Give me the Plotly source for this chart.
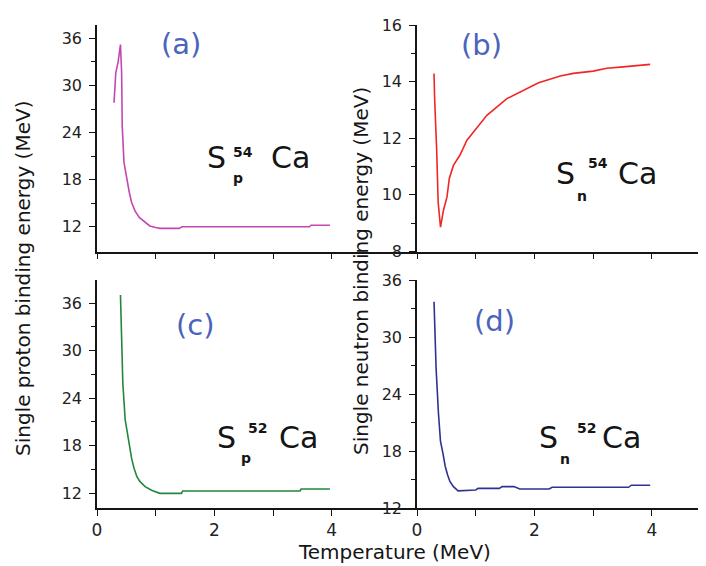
import plotly.graph_objects as go

# ---------------- data ----------------
T_a = [0.29, 0.30, 0.32, 0.36, 0.40, 0.42, 0.43, 0.46, 0.50, 0.55, 0.59, 0.65, 0.72, 0.82,
       0.90, 1.00, 1.07, 1.40, 1.45, 2.00, 2.50, 3.00, 3.62, 3.65, 3.97]
S_a = [27.8, 29.2, 31.6, 33.0, 35.2, 31.6, 24.8, 20.2, 18.4, 16.4, 15.1, 14.0, 13.2, 12.6,
       12.1, 11.9, 11.8, 11.8, 12.0, 12.0, 12.0, 12.0, 12.0, 12.2, 12.2]

T_b = [0.29, 0.30, 0.335, 0.36, 0.40, 0.45, 0.51, 0.55, 0.62, 0.73, 0.85, 1.04, 1.19, 1.53,
       1.75, 2.07, 2.44, 2.66, 3.00, 3.23, 3.51, 3.97]
S_b = [14.29, 13.4, 11.58, 9.75, 8.86, 9.45, 9.92, 10.58, 11.04, 11.4, 11.93, 12.4, 12.81, 13.4,
       13.64, 13.96, 14.2, 14.29, 14.37, 14.47, 14.52, 14.61]

T_c = [0.40, 0.41, 0.44, 0.48, 0.52, 0.55, 0.59, 0.63, 0.68, 0.73, 0.82, 0.93, 1.07, 1.44,
       1.46, 2.00, 3.00, 3.46, 3.48, 3.97]
S_c = [37.0, 33.3, 25.9, 21.3, 19.4, 17.7, 16.4, 15.2, 14.1, 13.5, 12.85, 12.4, 12.0, 12.0,
       12.3, 12.3, 12.3, 12.3, 12.55, 12.55]

T_d = [0.29, 0.30, 0.325, 0.365, 0.40, 0.44, 0.48, 0.52, 0.56, 0.62, 0.70, 1.00, 1.04, 1.40,
       1.45, 1.65, 1.75, 2.25, 2.30, 3.60, 3.65, 3.97]
S_d = [33.7, 31.4, 26.7, 22.0, 19.0, 17.8, 16.4, 15.5, 14.8, 14.25, 13.8, 13.9, 14.07, 14.07,
       14.25, 14.25, 14.0, 14.0, 14.18, 14.18, 14.4, 14.4]

x_ticks = [0, 1, 2, 3, 4]
x_ticktext = ["0", "", "2", "", "4"]
y_ticks_ac = [12, 18, 24, 30, 36]
y_minor_ac = [15, 21, 27, 33]
y_ticks_b = [8, 10, 12, 14, 16]
y_minor_b = [9, 11, 13, 15]
y_ticks_d = [12, 18, 24, 30, 36]
y_minor_d = [15, 21, 27, 33]

panel_tags = ["(a)", "(b)", "(c)", "(d)"]
sub_p = "p"
sub_n = "n"
mass_54 = "54"
mass_52 = "52"
y_title_p = "Single proton binding energy (MeV)"
y_title_n = "Single neutron binding energy (MeV)"
x_title = "Temperature (MeV)"

# ---------------- layout helpers ----------------
# the page body has an 8px margin, so the figure is offset by 8px
OFF = 8
W, H = 706 - OFF, 566 - OFF
def fx(x):
    return (x - OFF) / W
def fy(y):
    return 1 - (y - OFF) / H

FONT = "DejaVu Sans"
INK = "#151515"
left_dom = [fx(97), fx(417)]
right_dom = [fx(417), 1.0]
top_dom = [fy(251.5), fy(25)]
bot_dom = [fy(508), fy(280)]

fig = go.Figure()
fig.add_trace(go.Scatter(x=T_a, y=S_a, mode="lines", line=dict(color="#C446B2", width=1.6),
                         xaxis="x", yaxis="y", showlegend=False))
fig.add_trace(go.Scatter(x=T_b, y=S_b, mode="lines", line=dict(color="#F02626", width=1.6),
                         xaxis="x2", yaxis="y2", showlegend=False))
fig.add_trace(go.Scatter(x=T_c, y=S_c, mode="lines", line=dict(color="#23873D", width=1.6),
                         xaxis="x3", yaxis="y3", showlegend=False))
fig.add_trace(go.Scatter(x=T_d, y=S_d, mode="lines", line=dict(color="#2F3290", width=1.6),
                         xaxis="x4", yaxis="y4", showlegend=False))

common = dict(showline=True, linecolor=INK, linewidth=1.5, ticks="outside", ticklen=6,
              tickwidth=1.4, tickcolor=INK, showgrid=False, zeroline=False, mirror=False,
              automargin=False,
              tickfont=dict(family=FONT, size=16, color="#222"))

def xax(dom, anchor, rng, labels):
    d = dict(common)
    d.update(domain=dom, anchor=anchor, range=rng, tickmode="array", tickvals=x_ticks,
             ticktext=x_ticktext, showticklabels=labels)
    d["tickfont"] = dict(family=FONT, size=17, color="#222")
    return d

def yax(dom, anchor, rng, major, minor):
    d = dict(common)
    d.update(domain=dom, anchor=anchor, range=rng, tickmode="array", tickvals=major,
             ticklabelstandoff=4,
             minor=dict(tickmode="array", tickvals=minor, ticks="outside", ticklen=4,
                        tickwidth=1.2, tickcolor=INK, showgrid=False))
    return d

fig.update_layout(
    template="none",
    width=W, height=H, autosize=False,
    margin=dict(l=0, r=0, t=0, b=0, pad=0),
    paper_bgcolor="white", plot_bgcolor="white",
    font=dict(family=FONT, color=INK),
    xaxis=xax(left_dom, "y", [0, 5.454], False),
    yaxis=yax(top_dom, "x", [8.85, 37.7], y_ticks_ac, y_minor_ac),
    xaxis2=xax(right_dom, "y2", [0, 4.92], False),
    yaxis2=yax(top_dom, "x2", [8, 16], y_ticks_b, y_minor_b),
    xaxis3=xax(left_dom, "y3", [0, 5.454], True),
    yaxis3=yax(bot_dom, "x3", [10.15, 38.9], y_ticks_ac, y_minor_ac),
    xaxis4=xax(right_dom, "y4", [0, 4.92], True),
    yaxis4=yax(bot_dom, "x4", [12, 36], y_ticks_d, y_minor_d),
)

ann = []
def add(text, x, y, size, color=INK, angle=0, bold=False):
    ann.append(dict(text=f"<b>{text}</b>" if bold else text, x=fx(x), y=fy(y),
                    xref="paper", yref="paper", xanchor="center", yanchor="middle",
                    showarrow=False, textangle=angle,
                    font=dict(family=FONT, size=size, color=color)))

# panel tags
tag_pos = [(181, 44), (481.5, 45), (195, 325), (494, 321)]
for t, (x, y) in zip(panel_tags, tag_pos):
    add(t, x, y, 29, color="#4A64BC")

# nuclide labels: S, stacked sub/sup, Ca
labels = [
    (sub_p, mass_54, (216, 157), (237.5, 178), (243, 152), (290, 157)),
    (sub_n, mass_54, (565, 173.5), (582, 196), (598, 163), (637, 173.5)),
    (sub_p, mass_52, (226.5, 437.5), (246, 458), (257, 427.5), (298.5, 437.5)),
    (sub_n, mass_52, (548.5, 437.5), (565, 459), (586, 427.5), (621.5, 437.5)),
]
for sub, sup, s_xy, sub_xy, sup_xy, ca_xy in labels:
    add("S", s_xy[0], s_xy[1], 30)
    add(sub, sub_xy[0], sub_xy[1], 14, bold=True)
    add(sup, sup_xy[0], sup_xy[1], 14, bold=True)
    add("Ca", ca_xy[0], ca_xy[1], 30)

# axis titles
add(y_title_p, 23, 279, 20, angle=-90)
add(y_title_n, 361, 271, 20, angle=-90)
add(x_title, 394, 552, 20)

fig.update_layout(annotations=ann)
fig.write_html("out.html")
